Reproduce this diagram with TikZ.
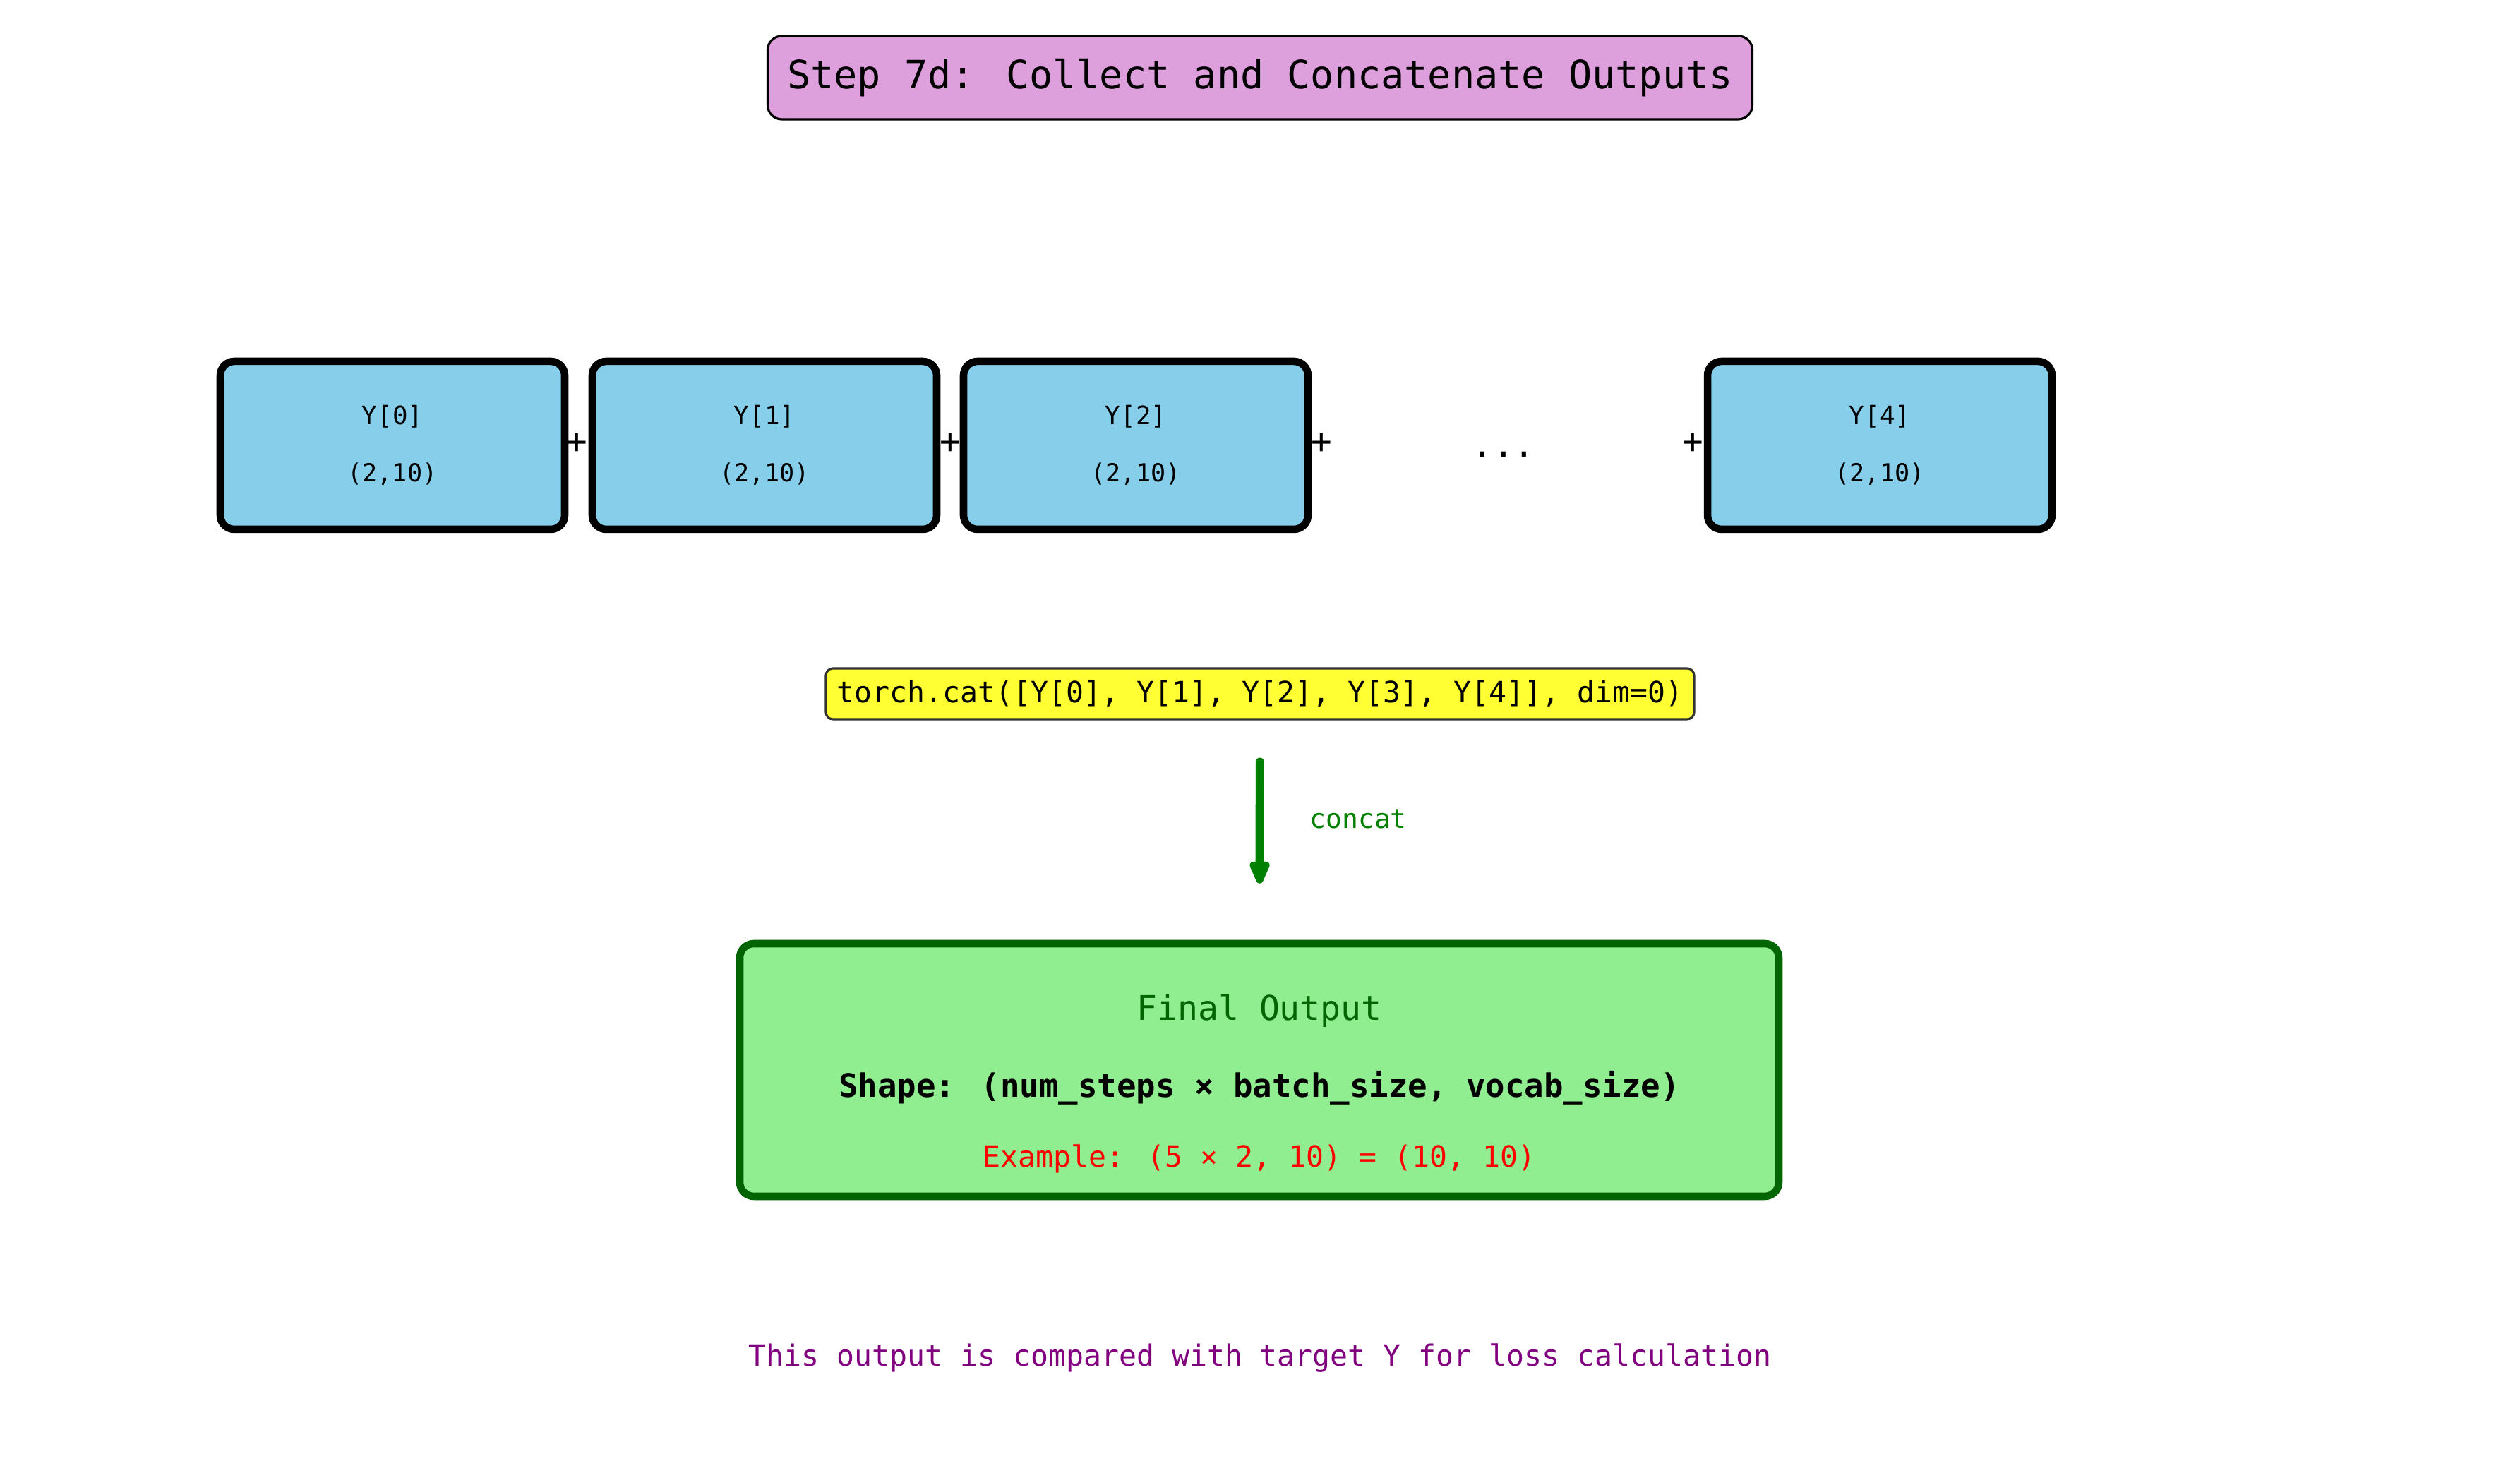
\documentclass[tikz,border=0pt]{standalone}
\usepackage{fontspec}
\setmainfont{DejaVu Sans Mono}
\usepackage{xcolor}
\usepackage{tikz}
\usetikzlibrary{arrows.meta,calc,positioning}
\definecolor{titleplum}{RGB}{221,160,221}
\definecolor{stepsky}{RGB}{135,206,235}
\definecolor{catyellow}{RGB}{255,255,51}
\definecolor{catborder}{RGB}{51,51,51}
\definecolor{outgreen}{RGB}{144,238,144}
\definecolor{outdark}{RGB}{0,100,0}
\definecolor{flowgreen}{RGB}{0,128,0}
\definecolor{notepurple}{RGB}{128,0,128}

\begin{document}
\begin{tikzpicture}[
	titlebox/.style={draw=black,line width=0.9pt,fill=titleplum,rounded corners=0.2cm,
		minimum width=13.95cm,minimum height=1.18cm,font=\fontsize{15.7}{18}\selectfont},
	ybox/.style={draw=black,line width=3pt,fill=stepsky,rounded corners=0.2cm,
		minimum width=4.88cm,minimum height=2.38cm},
	ylabel/.style={font=\fontsize{10.2}{12}\selectfont},
	yshape/.style={font=\fontsize{10}{12}\selectfont},
	plus/.style={font=\fontsize{14}{16}\selectfont,inner sep=0pt},
	catbox/.style={draw=catborder,line width=0.9pt,fill=catyellow,rounded corners=0.1cm,
		minimum width=12.3cm,minimum height=0.72cm,font=\fontsize{11.8}{14}\selectfont},
	outbox/.style={draw=outdark,line width=3pt,fill=outgreen,rounded corners=0.2cm,
		minimum width=14.72cm,minimum height=3.58cm},
	flow/.style={draw=flowgreen,line width=3.4pt,line cap=round,
		-{Triangle[length=0.4cm,width=0.3cm,round]}}
	]
	\useasboundingbox (0,0) rectangle (35.7,20.7);
	
	% title
	\node[titlebox] (title) at (17.85,19.6) {Step 7d: Collect and Concatenate Outputs};
	
	% outputs of the time steps
	\node[ybox] (y0) at (5.56,14.39) {};
	\node[ybox] (y1) at (10.83,14.39) {};
	\node[ybox] (y2) at (16.09,14.39) {};
	\node[ybox] (y4) at (26.63,14.39) {};
	\node[ylabel] (y0name) at ($(y0.center)+(0,0.41)$) {Y[0]};
	\node[ylabel] (y1name) at ($(y1.center)+(0,0.41)$) {Y[1]};
	\node[ylabel] (y2name) at ($(y2.center)+(0,0.41)$) {Y[2]};
	\node[ylabel] (y4name) at ($(y4.center)+(0,0.41)$) {Y[4]};
	\node[yshape] (y0dim) at ($(y0.center)-(0,0.41)$) {(2,10)};
	\node[yshape] (y1dim) at ($(y1.center)-(0,0.41)$) {(2,10)};
	\node[yshape] (y2dim) at ($(y2.center)-(0,0.41)$) {(2,10)};
	\node[yshape] (y4dim) at ($(y4.center)-(0,0.41)$) {(2,10)};
	\node[plus] (p1) at (8.17,14.42) {+};
	\node[plus] (p2) at (13.46,14.42) {+};
	\node[plus] (p3) at (18.72,14.42) {+};
	\node[plus] (p4) at (23.98,14.42) {+};
	\node[plus] (dots) at (21.3,14.26) {...};
	
	% concatenation
	\node[catbox] (cat) at (17.85,10.87) {torch.cat([Y[0], Y[1], Y[2], Y[3], Y[4]], dim=0)};
	\node[outbox] (final) at (17.84,5.54) {};
	\draw[flow,shorten <=0.59cm,shorten >=0.8cm] (cat) -- node[right=0.65cm,yshift=0.16cm,text=flowgreen,
		font=\fontsize{10.8}{13}\selectfont,inner sep=0pt]{concat} (final);
	\node[text=outdark,font=\fontsize{13.7}{16}\selectfont] (ftitle) at ($(final.center)+(0,0.84)$) {Final Output};
	\node[font=\fontsize{13}{16}\selectfont\bfseries] (fshape) at ($(final.center)-(0,0.25)$) {Shape: (num\_steps × batch\_size, vocab\_size)};
	\node[text=red,font=\fontsize{11.8}{14}\selectfont] (fexample) at ($(final.center)-(0,1.26)$) {Example: (5 × 2, 10) = (10, 10)};
	
	\node[text=notepurple,font=\fontsize{11.8}{14}\selectfont] (note) at (17.85,1.46) {This output is compared with target Y for loss calculation};
\end{tikzpicture}
\end{document}
